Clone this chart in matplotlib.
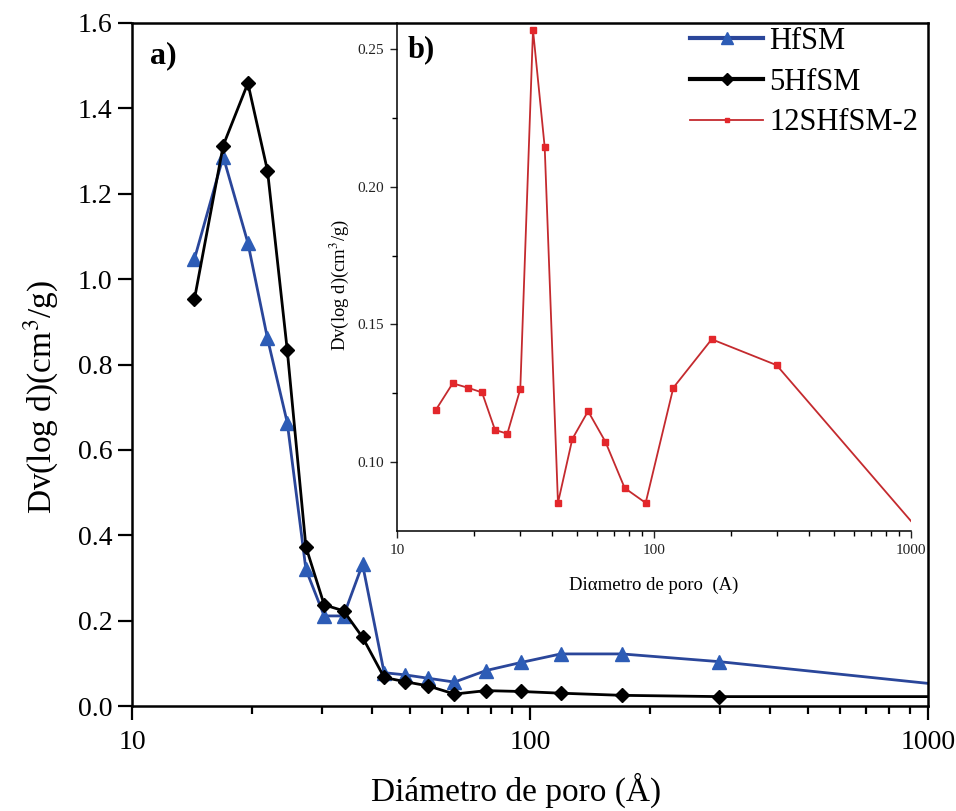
import numpy as np
import matplotlib
matplotlib.use("Agg")
import matplotlib.pyplot as plt
from matplotlib.ticker import FixedLocator, LogLocator, NullFormatter, FormatStrFormatter

plt.rcParams['font.family'] = ['Liberation Serif', 'DejaVu Serif']
plt.rcParams['mathtext.fontset'] = 'stix'

# --- Datos (panel a) ---
diam_a = [14.35, 16.95, 19.55, 21.9, 24.55, 27.35, 30.4, 34.0, 37.95, 43.0,
          48.5, 55.5, 64.6, 77.5, 95.0, 119.5, 170.0, 298.0, 1000.0]
hfsm = [1.047, 1.287, 1.085, 0.861, 0.664, 0.320, 0.211, 0.211, 0.332, 0.078,
        0.073, 0.065, 0.056, 0.083, 0.102, 0.122, 0.122, 0.104, 0.053]
hfsm5 = [0.953, 1.313, 1.459, 1.254, 0.834, 0.373, 0.237, 0.223, 0.161, 0.067,
         0.057, 0.047, 0.028, 0.036, 0.034, 0.030, 0.025, 0.022, 0.022]

# --- Datos (panel b, inserto) ---
diam_b = [14.15, 16.47, 18.89, 21.42, 24.06, 26.87, 30.18, 33.82, 37.56, 42.3,
          48.1, 55.4, 64.7, 76.9, 92.8, 118.9, 167.7, 300.0, 1000.0]
shfsm12 = [0.1189, 0.1286, 0.1270, 0.1253, 0.1117, 0.1103, 0.1265, 0.2569, 0.2143, 0.0852,
           0.1084, 0.1185, 0.1074, 0.0906, 0.0852, 0.1270, 0.1446, 0.1352, 0.0786]

blue = '#2a469a'
blue_mk = '#2d5cb6'
red = '#c42a2e'
red_mk = '#e3272b'

fig = plt.figure(figsize=(9.56, 8.11), dpi=100)
ax = fig.add_axes([132/956, 1 - 706/811, 796/956, 683/811])

mk = list(range(len(diam_a) - 1))
l1, = ax.plot(diam_a, hfsm, '-', color=blue, lw=2.0, marker='^', ms=10.5,
              mfc=blue_mk, mec=blue_mk, markevery=mk, label='HfSM')
l2, = ax.plot(diam_a, hfsm5, '-', color='black', lw=2.0, marker='D', ms=7.5,
              mfc='black', mec='black', markevery=mk, label='5HfSM')

ax.set_xscale('log')
ax.set_xlim(10, 1000)
ax.set_ylim(0, 1.6)
ax.set_xticks([10, 100, 1000])
ax.set_xticklabels(['10', '100', '1000'])
ax.xaxis.set_minor_locator(LogLocator(base=10, subs=np.arange(2, 10)))
ax.xaxis.set_minor_formatter(NullFormatter())
ax.set_yticks(np.arange(0, 1.61, 0.2))
ax.yaxis.set_major_formatter(FormatStrFormatter('%.1f'))
ax.tick_params(axis='both', which='major', direction='out', length=10, width=1.6,
               labelsize=20, top=False, right=False)
ax.tick_params(axis='x', which='major', pad=7)
ax.tick_params(axis='y', which='major', pad=4)
ax.tick_params(axis='x', which='minor', direction='out', length=5.5, width=1.6)
for s in ax.spines.values():
    s.set_linewidth(1.8)

ax.set_xlabel('Diámetro de poro (Å)', fontsize=24, va='center')
ax.xaxis.set_label_coords(0.482, -0.123)
ax.set_ylabel('Dv(log d)(cm$^3$/g)', fontsize=24, va='center')
ax.yaxis.set_label_coords(-0.114, 0.452)
ax.text(0.023, 0.952, 'a)', transform=ax.transAxes, fontsize=23, fontweight='bold',
        va='center', ha='left')

# --- Inserto b) ---
axb = fig.add_axes([397/956, 1 - 531/811, 514/956, 508/811])
axb.patch.set_alpha(0)
mk_b = list(range(len(diam_b) - 1))
l3, = axb.plot(diam_b, shfsm12, '-', color=red, lw=1.3, marker='s', ms=3.8,
               mfc=red_mk, mec=red_mk, markevery=mk_b, label='12SHfSM-2')
axb.set_xscale('log')
axb.set_xlim(10, 1000)
axb.set_ylim(0.075, 0.2594)
axb.set_xticks([10, 100, 1000])
axb.set_xticklabels(['10', '100', '1000'])
axb.xaxis.set_minor_locator(LogLocator(base=10, subs=np.arange(2, 10)))
axb.xaxis.set_minor_formatter(NullFormatter())
axb.set_yticks([0.10, 0.15, 0.20, 0.25])
axb.yaxis.set_major_formatter(FormatStrFormatter('%.2f'))
axb.yaxis.set_minor_locator(FixedLocator([0.125, 0.175, 0.225]))
axb.spines['top'].set_visible(False)
axb.spines['right'].set_visible(False)
for s in ['left', 'bottom']:
    axb.spines[s].set_linewidth(1.1)
axb.tick_params(axis='both', which='major', direction='out', length=5, width=1.0,
                labelsize=11, pad=4, colors='#222222')
axb.tick_params(axis='both', which='minor', direction='out', length=3.5, width=1.0)
axb.set_xlabel('Diαmetro de poro  (A)', fontsize=13.5, va='center')
axb.xaxis.set_label_coords(0.5, -0.106)
axb.set_ylabel('Dv(log d)(cm$^3$/g)', fontsize=13.5, va='center')
axb.yaxis.set_label_coords(-0.113, 0.484)
axb.text(0.021, 0.947, 'b)', transform=axb.transAxes, fontsize=22, fontweight='bold',
         va='center', ha='left')

leg = fig.legend(handles=[l1, l2, l3], loc='upper left', bbox_to_anchor=(690/956, 1 - 27/811),
                 frameon=False, fontsize=22, borderpad=0, borderaxespad=0,
                 handlelength=2.4, handletextpad=0.2, labelspacing=0.38, markerscale=0.8)
for h in leg.legend_handles[:2]:
    h.set_linewidth(3.0)

fig.savefig('out.png', dpi=100)
